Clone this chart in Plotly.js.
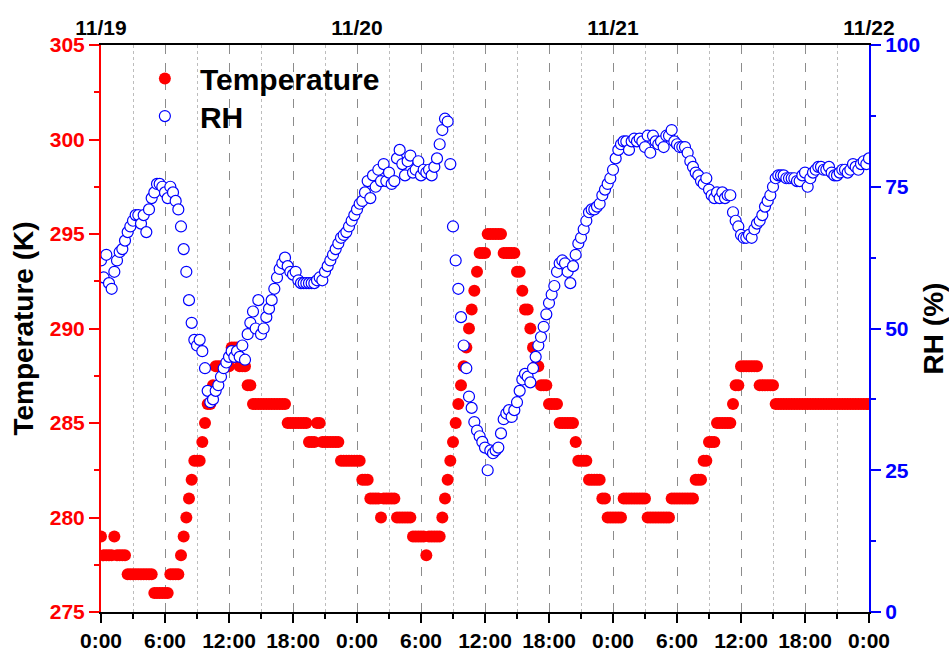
<!DOCTYPE html>
<html>
<head>
<meta charset="utf-8">
<script src="https://cdn.plot.ly/plotly-3.0.1.min.js"></script>
<style>html,body{margin:0;padding:0;background:#fff;}#chart{width:949px;height:651px;}</style>
</head>
<body>
<div id="chart"></div>
<script>
// Sampling: one reading every 15 minutes from 2019-11-19 00:00 to 2019-11-22 00:00
const startDay = 19;
const stepMinutes = 15;

// Temperature (K), 4 readings per hour
const temperature = [
  279,278,278,278, 278,279,278,278, 278,278,277,277, 277,277,277,277,
  277,277,277,277, 276,276,276,276, 276,276,277,277, 277,277,278,279,
  280,281,282,283, 283,283,284,285, 286,286,287,288, 288,288,288,288,
  288,289,289,289, 288,288,288,287, 287,286,286,286, 286,286,286,286,
  286,286,286,286, 286,286,285,285, 285,285,285,285, 285,285,284,284,
  284,285,285,284, 284,284,284,284, 284,284,283,283, 283,283,283,283,
  283,283,282,282, 282,281,281,281, 281,280,281,281, 281,281,281,280,
  280,280,280,280, 280,279,279,279, 279,279,278,279, 279,279,279,279,
  280,281,282,283, 284,285,286,287, 288,289,290,291, 292,293,294,294,
  294,295,295,295, 295,295,295,294, 294,294,294,294, 293,293,292,291,
  291,290,289,288, 288,287,287,287, 286,286,286,286, 285,285,285,285,
  285,285,284,283, 283,283,283,282, 282,282,282,282, 281,281,280,280,
  280,280,280,280, 281,281,281,281, 281,281,281,281, 281,280,280,280,
  280,280,280,280, 280,280,281,281, 281,281,281,281, 281,281,281,282,
  282,282,283,283, 284,284,284,285, 285,285,285,285, 285,286,287,287,
  288,288,288,288, 288,288,288,287, 287,287,287,287, 287,286,286,286,
  286,286,286,286, 286,286,286,286, 286,286,286,286, 286,286,286,286,
  286,286,286,286, 286,286,286,286, 286,286,286,286, 286,286,286,286,
  286
];

// Relative humidity (%), 4 readings per hour
const rh = [
  62,59,63,58, 57,60,62,63.5, 64,65.5,67,68, 69,70,70,68.5,
  70,67,71,73, 74,75.5,75.5,75, 74,73,75,74, 72.5,71,68,64,
  60,55,51,48, 47,48,46,43, 39,37,37.5,39, 40,41.5,43,44,
  45,46,45,46, 45,47,44.5,49, 51,53,50,55, 49,50,52,53.5,
  55,57,59,60.5, 61.5,62.5,61,60, 59.5,60,58.5,58, 58,58,58,58,
  58,58.5,59,58.5, 60,61,62,63, 64,65,66,66.5, 67,68,69,70,
  71,72,72.5,74, 76,73,77,75, 78,76,79,76, 77.5,75.5,76,80,
  81.5,79,77,79.5, 80.5,77.5,78,79.5, 77,78,77.5,78, 77,78.5,80,82.5,
  85,87,86.5,79, 68,62,57,52, 47,43,38,36, 33.5,32,31,30,
  29,25,28.5,28, 28.5,29,31.5,34, 35,35.6,34.4,35.6, 37,39,41,42,
  41.5,40.5,43,45, 47,48.5,50.3,52.5, 54.5,56,57.5,60, 61.5,62,61.5,60,
  58,61,63,65, 66,67.5,69,70.5, 71,71,71.5,72, 73.5,74.5,75.5,76.5,
  78,80,81.5,82.5, 83,83,81.5,83, 83.5,83,83.5,83, 82,84,81,84,
  83,82.5,83,82, 84,84,85,83, 82.5,82,82,82, 81,79.5,78.5,77.5,
  77,76,75.5,76.5, 74.5,73.5,73,74, 73,74,73,73.5, 73.5,70.5,69,68,
  66.5,66,66,66.5, 66,67.5,68.5,69, 70,71.5,72.5,73.5, 75,76.5,77,77,
  77,76.5,76.5,76.5, 76.5,76,76,77, 77.5,75,76.5,77.5, 78,78.5,78.5,78,
  78,78.5,77.5,77, 77,77.5,78,78, 77.5,78,79,78.5, 78,79,79.5,79,
  80
];

const bottomTickFormat = '%-H:%M';
const topTickFormat = '%m/%d';
const xRange = ['2019-11-19 00:00', '2019-11-22 00:00'];

function pad(n){ return (n < 10 ? '0' : '') + n; }
const times = temperature.map(function(_, i){
  const m = i * stepMinutes;
  const d = startDay + Math.floor(m / 1440);
  const mm = m % 1440;
  return '2019-11-' + pad(d) + ' ' + pad(Math.floor(mm / 60)) + ':' + pad(mm % 60);
});

const FONT = 'Liberation Sans, Arial, sans-serif';
const HOUR = 3600000;
const legendFont = {family: FONT, size: 30, weight: 'bold', color: '#000'};

const traces = [
  {
    x: times, y: temperature, name: 'Temperature', type: 'scatter', mode: 'markers',
    xaxis: 'x', yaxis: 'y', legend: 'legend',
    marker: {color: '#ff0000', size: 12, line: {width: 0}}
  },
  {
    x: times, y: rh, name: 'RH', type: 'scatter', mode: 'markers',
    xaxis: 'x2', yaxis: 'y2', legend: 'legend2',
    marker: {symbol: 'circle', color: '#ffffff', size: 11, line: {color: '#0000ff', width: 1.2}}
  }
];

const layout = {
  width: 949, height: 651,
  margin: {l: 101, r: 80, t: 45, b: 39},
  paper_bgcolor: '#ffffff', plot_bgcolor: '#ffffff',
  font: {family: FONT, color: '#000'},
  showlegend: true,
  legend: {
    x: 0.0376, y: 0.9868, xanchor: 'left', yanchor: 'top',
    bgcolor: 'rgba(0,0,0,0)', itemwidth: 60, font: legendFont
  },
  legend2: {
    x: 0.0376, y: 0.9205, xanchor: 'left', yanchor: 'top',
    bgcolor: 'rgba(0,0,0,0)', itemwidth: 60, font: legendFont
  },
  xaxis: {
    type: 'date', range: xRange, dtick: 6 * HOUR, tick0: xRange[0],
    tickformat: bottomTickFormat,
    tickfont: {family: FONT, size: 21, weight: 'bold', color: '#000'},
    ticks: 'outside', ticklen: 9, tickwidth: 2, tickcolor: '#000',
    showline: true, linecolor: '#000', linewidth: 2,
    showgrid: true, gridcolor: '#8c8c8c', gridwidth: 1, griddash: 'dash',
    zeroline: false,
    minor: {dtick: 3 * HOUR, ticks: 'outside', ticklen: 5, tickwidth: 2, tickcolor: '#000',
            showgrid: true, gridcolor: '#bdbdbd', gridwidth: 1, griddash: 'dot'}
  },
  xaxis2: {
    type: 'date', range: xRange, dtick: 24 * HOUR, tick0: xRange[0],
    tickformat: topTickFormat, overlaying: 'x', side: 'top', anchor: 'y2',
    tickfont: {family: FONT, size: 21, weight: 'bold', color: '#000'},
    ticks: '', showline: true, linecolor: '#000', linewidth: 2,
    showgrid: false, zeroline: false
  },
  yaxis: {
    range: [275, 305], dtick: 5, tick0: 275,
    tickfont: {family: FONT, size: 21, weight: 'bold', color: '#ff0000'},
    ticks: 'outside', ticklen: 10, tickwidth: 2, tickcolor: '#ff0000',
    showline: true, linecolor: '#ff0000', linewidth: 2,
    showgrid: false, zeroline: false,
    minor: {dtick: 2.5, ticks: 'outside', ticklen: 5, tickwidth: 2, tickcolor: '#ff0000', showgrid: false},
    title: {text: 'Temperature (K)', font: {family: FONT, size: 28, weight: 'bold', color: '#000'}, standoff: 8}
  },
  yaxis2: {
    range: [0, 100], dtick: 25, tick0: 0, overlaying: 'y', side: 'right', anchor: 'x2',
    tickfont: {family: FONT, size: 21, weight: 'bold', color: '#0000ff'},
    ticks: 'outside', ticklen: 10, tickwidth: 2, tickcolor: '#0000ff',
    showline: true, linecolor: '#0000ff', linewidth: 2,
    showgrid: false, zeroline: false,
    minor: {dtick: 12.5, ticks: 'outside', ticklen: 5, tickwidth: 2, tickcolor: '#0000ff', showgrid: false},
    title: {text: 'RH (%)', font: {family: FONT, size: 28, weight: 'bold', color: '#000'}, standoff: 8}
  }
};

Plotly.newPlot('chart', traces, layout, {displayModeBar: false, staticPlot: true});
</script>
</body>
</html>
